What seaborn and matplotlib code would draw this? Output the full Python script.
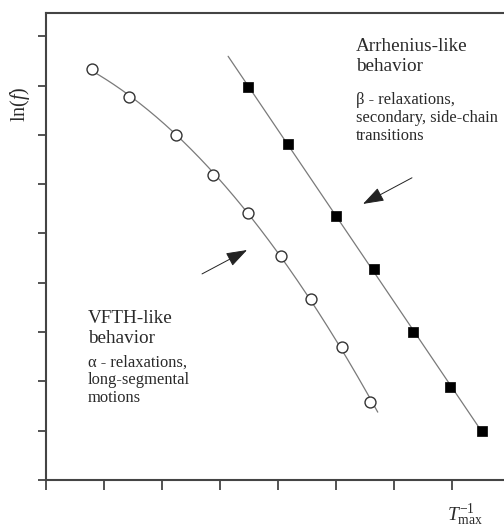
import numpy as np
import pandas as pd
import seaborn as sns
import matplotlib
matplotlib.use("Agg")
import matplotlib.pyplot as plt

# alpha relaxation (VFTH-like) points: 1/T_max vs ln(f)
alpha_x = [0.79, 1.43, 2.24, 2.88, 3.48, 4.05, 4.57, 5.10, 5.59]
alpha_y = [8.34, 7.77, 7.00, 6.19, 5.42, 4.54, 3.67, 2.70, 1.58]

# beta relaxation (Arrhenius-like) points
beta_x = [3.48, 4.17, 5.00, 5.66, 6.33, 6.97, 7.52]
beta_y = [7.97, 6.82, 5.36, 4.28, 3.00, 1.89, 0.99]

x_ticks = list(range(0, 8))
y_ticks = list(range(0, 10))

sns.set_style("ticks")
plt.rcParams["font.family"] = ["Liberation Serif", "DejaVu Serif"]
plt.rcParams["mathtext.fontset"] = "custom"
plt.rcParams["mathtext.rm"] = "Liberation Serif"
plt.rcParams["mathtext.it"] = "Liberation Serif:italic"

W, H = 504, 527
fig = plt.figure(figsize=(W / 100, H / 100), dpi=100)
ax = fig.add_axes([46 / W, 47 / H, (W - 46) / W, 467 / H])

spine_col = "#444444"
line_col = "#7a7a7a"
text_col = "#2a2a2a"

# fitted curves through each family of points
a_fit = np.polyfit(alpha_x, alpha_y, 2)
xa = np.linspace(alpha_x[0], 5.72, 200)
sns.lineplot(x=xa, y=np.polyval(a_fit, xa), ax=ax, color=line_col, lw=0.9)

b_fit = np.polyfit(beta_x, beta_y, 1)
xb = np.linspace(3.14, beta_x[-1], 50)
sns.lineplot(x=xb, y=np.polyval(b_fit, xb), ax=ax, color=line_col, lw=0.9)

df_a = pd.DataFrame({"x": alpha_x, "y": alpha_y})
df_b = pd.DataFrame({"x": beta_x, "y": beta_y})
sns.scatterplot(data=df_a, x="x", y="y", ax=ax, marker="o", s=62,
                facecolor="white", edgecolor="#333333", linewidth=1.0, zorder=3)
sns.scatterplot(data=df_b, x="x", y="y", ax=ax, marker="s", s=42,
                color="black", edgecolor="black", linewidth=0.5, zorder=3)

ax.set_xlim(0, (W - 46) / 58.0)
ax.set_ylim(0, 467 / 49.3)
ax.set_xticks(x_ticks)
ax.set_yticks(y_ticks)
ax.set_xticklabels([])
ax.set_yticklabels([])
ax.set_xlabel("")
ax.set_ylabel("")
ax.tick_params(axis="y", direction="out", length=6, width=1.3, color=spine_col)
ax.tick_params(axis="x", direction="out", length=7, width=1.3, color=spine_col)
for side in ["left", "bottom", "top"]:
    ax.spines[side].set_visible(True)
    ax.spines[side].set_color(spine_col)
    ax.spines[side].set_linewidth(1.5)
ax.spines["right"].set_visible(False)

# annotation texts (anchored on the baseline of the last line)
ax.text(5.345, 8.30, "Arrhenius-like\nbehavior", fontsize=13.8, color=text_col,
        ha="left", va="baseline", linespacing=1.2)
ax.text(5.345, 6.90, "β - relaxations,\nsecondary, side-chain\ntransitions",
        fontsize=11.9, color=text_col, ha="left", va="baseline", linespacing=1.15)
ax.text(0.724, 2.78, "VFTH-like\nbehavior", fontsize=13.8, color=text_col,
        ha="left", va="baseline", linespacing=1.2)
ax.text(0.724, 1.58, "α - relaxations,\nlong-segmental\nmotions",
        fontsize=11.9, color=text_col, ha="left", va="baseline", linespacing=1.15)

arrow_kw = dict(arrowstyle="-|>,head_length=1.3,head_width=0.45",
                color="#222222", lw=0.7, shrinkA=0, shrinkB=0)
ax.annotate("", xy=(3.466, 4.665), xytext=(2.69, 4.18), arrowprops=arrow_kw)
ax.annotate("", xy=(5.466, 5.60), xytext=(6.31, 6.13), arrowprops=arrow_kw)

# axis labels
ax.text(-0.057, 0.805, "ln($f$)", transform=ax.transAxes, rotation=90,
        ha="center", va="center", fontsize=14.5, color=text_col)
ax.text(0.8755, -0.0878, r"$T_{\mathrm{max}}^{\mathrm{-1}}$", transform=ax.transAxes,
        ha="left", va="baseline", fontsize=14, color=text_col)

fig.savefig("out.png", dpi=100)
